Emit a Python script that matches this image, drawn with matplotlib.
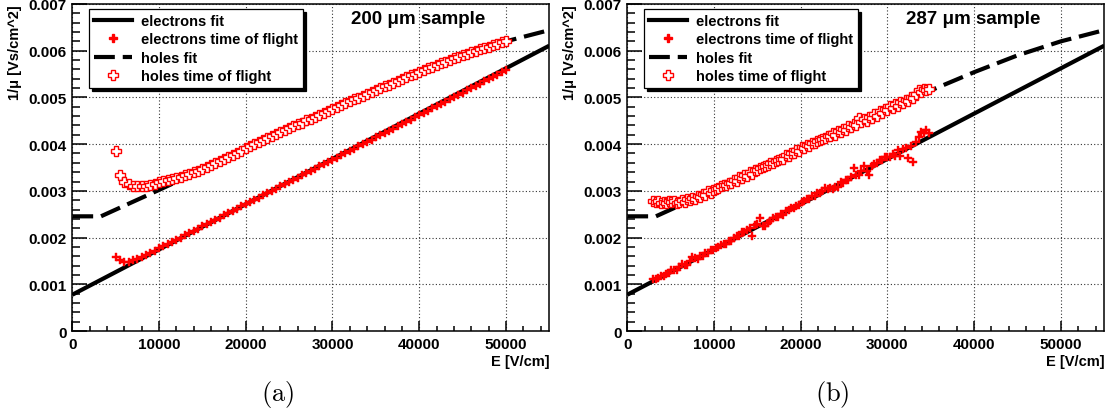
import matplotlib
matplotlib.use("Agg")
import matplotlib.pyplot as plt
from matplotlib.ticker import MultipleLocator, FuncFormatter
from matplotlib.lines import Line2D

plt.rcParams['font.family'] = ['Liberation Sans', 'DejaVu Sans']
plt.rcParams['mathtext.fontset'] = 'cm'

# E in kV/cm, 1/mu in 1e-6 Vs/cm^2

# fit curves (same in both panels)
electrons_fit_E = [0, 55]
electrons_fit_inv_mu = [777, 6107]
holes_fit_E = [0, 3.3, 10, 15, 20, 25, 30, 35, 40, 45, 50, 55]
holes_fit_inv_mu = [2455, 2455, 3020, 3450, 3900, 4330, 4750, 5150, 5540, 5900, 6200, 6440]

# 200 um sample, time of flight
tof200_E = [
    5.0, 5.5, 6.0, 6.5, 7.0, 7.5, 8.0, 8.5, 9.0, 9.5,
    10.0, 10.5, 11.0, 11.5, 12.0, 12.5, 13.0, 13.5, 14.0, 14.5,
    15.0, 15.5, 16.0, 16.5, 17.0, 17.5, 18.0, 18.5, 19.0, 19.5,
    20.0, 20.5, 21.0, 21.5, 22.0, 22.5, 23.0, 23.5, 24.0, 24.5,
    25.0, 25.5, 26.0, 26.5, 27.0, 27.5, 28.0, 28.5, 29.0, 29.5,
    30.0, 30.5, 31.0, 31.5, 32.0, 32.5, 33.0, 33.5, 34.0, 34.5,
    35.0, 35.5, 36.0, 36.5, 37.0, 37.5, 38.0, 38.5, 39.0, 39.5,
    40.0, 40.5, 41.0, 41.5, 42.0, 42.5, 43.0, 43.5, 44.0, 44.5,
    45.0, 45.5, 46.0, 46.5, 47.0, 47.5, 48.0, 48.5, 49.0, 49.5,
    50.0,
]
tof200_electrons = [
    1592, 1510, 1480, 1485, 1510, 1545, 1580, 1620, 1665, 1715,
    1770, 1815, 1862, 1907, 1953, 1998, 2046, 2093, 2142, 2189,
    2238, 2285, 2332, 2380, 2428, 2476, 2523, 2571, 2619, 2666,
    2713, 2760, 2808, 2855, 2904, 2950, 2999, 3046, 3094, 3141,
    3190, 3237, 3284, 3333, 3380, 3428, 3476, 3523, 3571, 3619,
    3666, 3713, 3762, 3809, 3857, 3904, 3953, 4000, 4048, 4096,
    4144, 4191, 4239, 4287, 4334, 4382, 4430, 4478, 4525, 4574,
    4621, 4669, 4717, 4764, 4813, 4860, 4909, 4956, 5005, 5052,
    5101, 5148, 5196, 5245, 5292, 5341, 5389, 5437, 5485, 5534,
    5585,
]
tof200_holes = [
    3850, 3340, 3200, 3140, 3110, 3095, 3095, 3105, 3125, 3150,
    3180, 3205, 3230, 3255, 3280, 3305, 3335, 3365, 3395, 3430,
    3468, 3510, 3553, 3597, 3641, 3685, 3729, 3774, 3818, 3863,
    3908, 3951, 3994, 4037, 4080, 4122, 4166, 4208, 4252, 4294,
    4338, 4379, 4422, 4463, 4506, 4547, 4590, 4631, 4674, 4715,
    4758, 4797, 4838, 4877, 4918, 4957, 4998, 5037, 5078, 5117,
    5158, 5196, 5236, 5274, 5314, 5352, 5392, 5430, 5470, 5508,
    5548, 5583, 5620, 5655, 5692, 5727, 5764, 5799, 5836, 5871,
    5908, 5938, 5968, 5998, 6028, 6058, 6088, 6118, 6148, 6180,
    6215,
]

# 287 um sample, time of flight
tof287_E = [
    3.0, 3.3, 3.6, 3.9, 4.2, 4.5, 4.8, 5.1, 5.4, 5.7,
    6.0, 6.3, 6.6, 6.9, 7.2, 7.5, 7.8, 8.1, 8.4, 8.7,
    9.0, 9.3, 9.6, 9.9, 10.2, 10.5, 10.8, 11.1, 11.4, 11.7,
    12.0, 12.3, 12.6, 12.9, 13.2, 13.5, 13.8, 14.1, 14.4, 14.7,
    15.0, 15.3, 15.6, 15.9, 16.2, 16.5, 16.8, 17.1, 17.4, 17.7,
    18.0, 18.3, 18.6, 18.9, 19.2, 19.5, 19.8, 20.1, 20.4, 20.7,
    21.0, 21.3, 21.6, 21.9, 22.2, 22.5, 22.8, 23.1, 23.4, 23.7,
    24.0, 24.3, 24.6, 24.9, 25.2, 25.5, 25.8, 26.1, 26.4, 26.7,
    27.0, 27.3, 27.6, 27.9, 28.2, 28.5, 28.8, 29.1, 29.4, 29.7,
    30.0, 30.3, 30.6, 30.9, 31.2, 31.5, 31.8, 32.1, 32.4, 32.7,
    33.0, 33.3, 33.6, 33.9, 34.2, 34.5, 34.8,
]
tof287_electrons = [
    1103, 1117, 1136, 1170, 1179, 1223, 1232, 1301, 1310, 1314,
    1378, 1427, 1407, 1421, 1495, 1584, 1563, 1552, 1616, 1600,
    1664, 1668, 1727, 1741, 1780, 1789, 1834, 1858, 1872, 1921,
    1935, 1999, 2043, 2037, 2116, 2110, 2164, 2213, 2042, 2261,
    2281, 2410, 2239, 2238, 2317, 2356, 2425, 2444, 2443, 2502,
    2491, 2575, 2589, 2628, 2627, 2682, 2691, 2755, 2774, 2823,
    2822, 2891, 2900, 2959, 2948, 2997, 3056, 3045, 3054, 3033,
    3093, 3072, 3181, 3170, 3229, 3228, 3307, 3486, 3345, 3344,
    3423, 3522, 3431, 3340, 3540, 3579, 3588, 3657, 3656, 3715,
    3724, 3733, 3782, 3751, 3870, 3749, 3888, 3907, 3700, 3966,
    3610, 4044, 4153, 4262, 4241, 4310, 4229,
]
tof287_holes = [
    2790, 2760, 2775, 2740, 2770, 2745, 2780, 2760, 2790, 2740,
    2770, 2800, 2760, 2830, 2800, 2850, 2830, 2890, 2870, 2930,
    2910, 2990, 2950, 3010, 3050, 3070, 3100, 3120, 3130, 3170,
    3170, 3240, 3220, 3290, 3270, 3340, 3310, 3400, 3370, 3450,
    3440, 3480, 3500, 3540, 3550, 3590, 3600, 3640, 3660, 3690,
    3690, 3770, 3740, 3820, 3800, 3880, 3850, 3940, 3920, 3990,
    3970, 4020, 4030, 4070, 4080, 4110, 4140, 4170, 4180, 4240,
    4200, 4290, 4260, 4330, 4310, 4390, 4360, 4440, 4410, 4560,
    4470, 4540, 4500, 4580, 4560, 4650, 4610, 4700, 4670, 4760,
    4740, 4810, 4780, 4850, 4820, 4900, 4870, 4950, 4920, 5010,
    4980, 5070, 5160, 5120, 5180, 5150, 5190,
]

RED = '#ff0000'


def kv(vals):
    return [x*1000 for x in vals]

def mu(vals):
    return [x*1e-6 for x in vals]

def y_fmt(v, pos):
    if abs(v) < 1e-9:
        return '0'
    return f'{v:.3f}'


def draw_panel(ax, E, el, ho, title, letter):
    ax.plot(kv(electrons_fit_E), mu(electrons_fit_inv_mu), color='black', lw=3, solid_capstyle='butt', zorder=2)
    ax.plot(kv(holes_fit_E), mu(holes_fit_inv_mu), color='black', lw=3, ls=(0, (5, 1.9)), zorder=2)
    ax.plot(kv(E), mu(ho), ls='none', marker='P', ms=6.5, mfc='white', mec=RED, mew=1.0, zorder=3)
    ax.plot(kv(E), mu(el), ls='none', marker='P', ms=6, mfc=RED, mec=RED, mew=0.3, zorder=4)

    ax.set_xlim(0, 55000)
    ax.set_ylim(0, 0.007)
    ax.xaxis.set_major_locator(MultipleLocator(10000))
    ax.xaxis.set_minor_locator(MultipleLocator(2000))
    ax.yaxis.set_major_locator(MultipleLocator(0.001))
    ax.yaxis.set_minor_locator(MultipleLocator(0.0002))
    ax.yaxis.set_major_formatter(FuncFormatter(y_fmt))
    ax.grid(True, which='major', ls=(0, (1, 2)), color='#333333', lw=0.8)
    ax.set_axisbelow(True)
    ax.tick_params(which='both', direction='in', top=False, right=False, width=1.1, labelsize=11, pad=4)
    ax.tick_params(axis='y', which='major', length=10.5)
    ax.tick_params(axis='y', which='minor', length=5.5)
    ax.tick_params(axis='x', which='major', length=7)
    ax.tick_params(axis='x', which='minor', length=3.5)
    for lab in ax.get_xticklabels() + ax.get_yticklabels():
        lab.set_fontweight('bold')
    for sp in ax.spines.values():
        sp.set_linewidth(1.1)

    ax.text(1.0, -0.07, 'E [V/cm]', transform=ax.transAxes, ha='right', va='top',
            fontsize=10.5, fontweight='bold')
    ax.text(-0.12, 1.0, '1/\u03bc [Vs/cm^2]', transform=ax.transAxes, ha='center', va='top',
            rotation=90, fontsize=10.5, fontweight='bold')
    ax.text(0.725, 0.955, title, transform=ax.transAxes, ha='center', va='center',
            fontsize=13.5, fontweight='bold')
    ax.text(0.43, -0.19, r'$\mathrm{(' + letter + ')}$', transform=ax.transAxes,
            ha='center', va='center', fontsize=19)

    handles = [
        Line2D([], [], color='black', lw=3),
        Line2D([], [], ls='none', marker='P', ms=6, mfc=RED, mec=RED),
        Line2D([], [], color='black', lw=3, ls=(0, (5, 1.9))),
        Line2D([], [], ls='none', marker='P', ms=6.5, mfc='white', mec=RED, mew=1.0),
    ]
    labels = ['electrons fit', 'electrons time of flight', 'holes fit', 'holes time of flight']
    leg = ax.legend(handles, labels, loc='upper left', bbox_to_anchor=(0.035, 0.985),
                    borderaxespad=0, fancybox=False, framealpha=1, edgecolor='black',
                    shadow={'color': 'black', 'alpha': 1}, prop={'weight': 'bold', 'size': 10.5},
                    handlelength=2.6, handletextpad=0.6, labelspacing=0.3, borderpad=0.35)
    leg.get_frame().set_linewidth(0.9)


def main():
    fig = plt.figure(figsize=(11.11, 4.14), dpi=100)
    ax1 = fig.add_axes([0.0651, 0.198, 0.4293, 0.790])
    ax2 = fig.add_axes([0.5646, 0.198, 0.4293, 0.790])
    draw_panel(ax1, tof200_E, tof200_electrons, tof200_holes, '200 \u03bcm sample', 'a')
    draw_panel(ax2, tof287_E, tof287_electrons, tof287_holes, '287 \u03bcm sample', 'b')
    fig.savefig('out.png', dpi=100)


if __name__ == "__main__":
    main()
